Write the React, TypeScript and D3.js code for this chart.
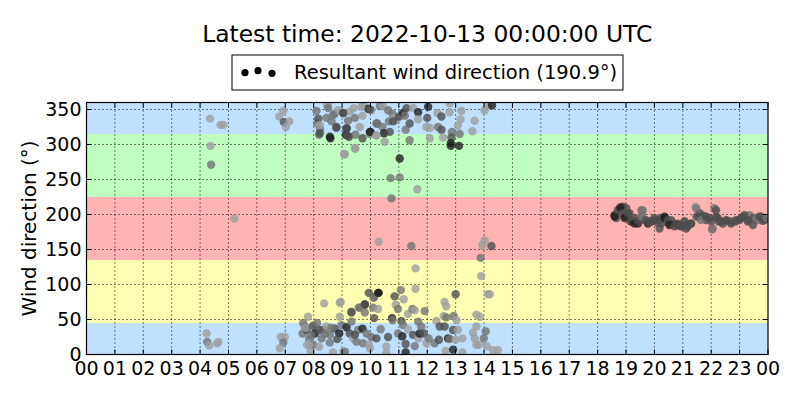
import { useEffect, useRef } from 'react';
import * as d3 from 'd3';

// shade levels of the markers (gray level, 0 = black)
const K = 0.12;
const D = 0.3;
const G = 0.45;
const L = 0.62;

const titleText = 'Latest time: 2022-10-13 00:00:00 UTC';
const legendText = 'Resultant wind direction (190.9°)';
const yLabel = 'Wind direction (°)';

const hourTicks = d3.range(0, 25);
const hourLabels = hourTicks.map(h => String(h % 24).padStart(2, '0'));
const degTicks = [0, 50, 100, 150, 200, 250, 300, 350];

// direction sectors behind the points
const sectors = [
  { from: 0, to: 45, color: '#bfe0ff' },
  { from: 45, to: 135, color: '#ffffb3' },
  { from: 135, to: 225, color: '#ffb3b3' },
  { from: 225, to: 315, color: '#bfffbf' },
  { from: 315, to: 360, color: '#bfe0ff' },
];

// [hour, direction, shade]
const earlyPoints: [number, number, number][] = [
  [4.35, 337, L], [4.72, 328, L], [4.82, 328, L], [4.37, 298, L], [4.39, 271, G],
  [5.21, 194, L], [6.93, 348, L], [6.79, 340, L], [6.95, 332, D], [7.14, 333, L],
  [7.02, 325, L], [4.23, 30, L], [4.25, 18, G], [4.32, 13, L], [4.6, 16, L],
  [4.65, 18, L], [6.84, 25, L], [6.98, 25, L], [6.93, 17, G], [6.81, 9, L],
];

const northPoints: [number, number, number][] = [
  [8.1, 348, G], [8.12, 330, G], [8.22, 322, G], [8.19, 314, G], [8.47, 356, L],
  [8.45, 338, G], [8.63, 333, G], [8.59, 309, K], [8.74, 344, G], [8.8, 324, D],
  [8.86, 349, L], [9.04, 345, D], [9.07, 286, L], [9.16, 323, K], [9.13, 314, K],
  [9.21, 334, G], [9.27, 347, L], [9.25, 311, D], [9.41, 352, L], [9.45, 338, G],
  [9.47, 294, L], [9.47, 314, G], [9.62, 325, L], [9.72, 309, D], [9.74, 356, L],
  [9.72, 341, L], [9.92, 351, K], [10.03, 349, L], [10.0, 318, K], [9.98, 315, G],
  [10.23, 330, D], [10.21, 313, L], [10.33, 355, G], [10.42, 325, G], [10.48, 316, K],
  [10.5, 304, L], [10.65, 333, G], [10.68, 318, D], [10.71, 252, G], [10.74, 223, G],
  [10.77, 344, G], [10.85, 338, L], [10.91, 335, L], [11.01, 340, D], [11.03, 280, K],
  [11.03, 253, G], [11.15, 345, K], [11.21, 341, G], [11.27, 352, D], [11.24, 321, G],
  [11.38, 330, D], [11.38, 306, G], [11.5, 352, L], [11.65, 236, L], [11.68, 346, K],
  [11.68, 336, L], [12.03, 354, K], [12.0, 338, D], [11.97, 325, L], [12.09, 324, L],
  [12.09, 309, L], [12.36, 345, L], [12.38, 325, G], [12.5, 340, D], [12.5, 321, D],
  [12.56, 310, L], [12.79, 359, L], [12.79, 346, L], [12.87, 318, G], [12.85, 310, D],
  [12.83, 302, K], [12.83, 298, K], [13.08, 327, L], [13.14, 315, G], [13.12, 298, K],
  [13.17, 336, L], [13.2, 348, L], [13.59, 319, L], [13.67, 334, L], [14.02, 349, L],
  [14.14, 356, L], [14.28, 356, K],
  [8.51, 359, L], [8.51, 352, G], [8.16, 337, D], [8.22, 328, L], [8.22, 316, D],
  [8.57, 311, K], [8.8, 325, D], [8.68, 342, G], [9.04, 345, D], [9.16, 323, D],
  [9.21, 312, D], [9.1, 286, L], [9.45, 295, L], [9.68, 354, L], [9.98, 350, D],
  [9.98, 318, K], [10.21, 330, G], [10.21, 313, L], [10.44, 355, L], [10.62, 349, G],
  [10.8, 333, D],
];

const southPoints: [number, number, number][] = [
  [10.29, 161, L], [11.44, 155, G], [13.94, 156, L], [14.02, 163, L], [14.26, 155, D],
  [13.88, 138, G], [11.59, 123, L], [13.9, 112, L], [11.59, 94, L], [10.29, 88, K],
  [10.13, 82, D], [10.85, 83, D], [11.07, 92, G], [11.17, 79, L], [8.95, 75, L],
  [8.37, 73, L], [9.8, 71, K], [9.59, 67, G], [10.09, 67, G], [10.27, 65, L],
  [10.89, 71, L], [10.97, 65, G], [11.32, 58, L], [11.48, 65, G], [11.56, 63, L],
  [11.91, 62, G], [13.0, 86, D], [12.61, 75, L], [12.67, 69, L], [14.14, 86, L],
  [14.2, 86, L], [13.73, 57, L], [9.33, 61, G], [9.8, 60, G], [8.92, 54, L],
  [10.13, 52, D], [10.76, 52, K], [11.09, 48, D], [11.68, 47, G], [12.32, 48, L],
  [12.58, 55, L], [12.67, 53, G], [12.93, 55, G], [13.03, 49, L], [13.85, 54, L],
  [7.8, 54, L], [8.92, 74, L], [9.33, 60, D], [9.62, 67, G], [9.8, 72, D],
  [9.94, 88, D], [10.11, 81, G], [10.27, 88, K], [10.78, 49, G],
  [7.63, 45, G], [7.69, 40, G], [7.61, 30, G], [7.75, 35, D], [7.84, 22, G],
  [7.77, 14, L], [7.89, 5, L], [7.98, 41, D], [8.04, 30, K], [8.12, 45, G],
  [7.98, 14, G], [8.19, 11, L], [8.28, 23, G], [8.33, 35, G], [8.45, 40, L],
  [8.57, 28, G], [8.57, 17, G], [8.68, 3, L], [8.74, 37, D], [8.9, 30, K],
  [8.98, 42, G], [9.04, 4, L], [9.1, 4, G], [9.16, 39, K], [9.27, 30, D],
  [9.33, 47, G], [9.39, 23, L], [9.51, 18, G], [9.56, 35, G], [9.72, 37, K],
  [9.74, 16, G], [9.86, 30, G], [9.95, 14, L], [9.98, 9, L], [10.03, 25, G],
  [10.21, 23, D], [10.36, 36, G], [10.56, 11, L], [10.62, 25, D], [10.56, 2, L],
  [10.97, 30, G], [11.12, 26, K], [11.15, 42, G], [11.24, 15, D], [11.24, 3, K],
  [11.32, 36, L], [11.5, 28, D], [11.56, 12, G], [11.68, 23, L], [11.73, 30, K],
  [11.79, 40, G], [11.88, 30, D], [11.97, 16, L], [12.05, 23, G], [12.26, 16, G],
  [12.41, 21, D], [12.44, 40, D], [12.61, 40, D], [12.73, 23, K], [12.79, 22, G],
  [12.65, 5, L], [12.91, 35, D], [12.91, 7, K], [13.0, 21, L], [13.08, 35, L],
  [13.24, 23, L], [13.24, 3, L], [13.61, 31, L], [13.73, 40, L], [13.67, 23, L],
  [13.73, 14, L], [13.82, 14, L], [13.99, 23, G], [14.06, 33, G], [14.1, 12, L],
  [14.31, 6, L], [14.49, 6, L], [7.84, 14, L], [7.7, 38, L], [7.9, 28, G],
  [8.2, 35, D], [8.4, 30, G], [8.62, 38, G], [8.83, 22, D], [9.45, 28, D],
];

const eveningPoints: [number, number, number][] = [
  [18.6, 199, K], [18.66, 195, D], [18.77, 206, D], [18.89, 211, D], [19.01, 209, D],
  [18.95, 198, D], [19.12, 202, D], [19.18, 190, K], [19.3, 195, D], [19.42, 187, K],
  [19.54, 206, G], [19.57, 199, G], [19.65, 192, D], [19.77, 187, K], [19.89, 190, D],
  [20.0, 192, D], [20.12, 188, D], [20.24, 195, D], [20.36, 197, K], [20.42, 190, D],
  [20.53, 187, D], [20.59, 192, D], [20.71, 187, D], [20.82, 185, K], [20.94, 183, D],
  [21.06, 190, G], [21.14, 185, D], [21.29, 187, D], [21.45, 211, L], [21.47, 197, G],
  [21.59, 202, D], [21.73, 198, D], [21.82, 192, D], [21.94, 195, D], [22.03, 179, G],
  [22.11, 209, G], [22.17, 197, D], [22.27, 190, D], [22.41, 187, D], [22.55, 191, D],
  [22.7, 187, D], [22.85, 190, D], [23.0, 192, D], [23.14, 197, D], [23.29, 190, D],
  [23.35, 199, G], [23.49, 195, D], [23.64, 192, G], [23.76, 197, D], [23.87, 192, D],
  [18.6, 197, K], [18.71, 206, D], [18.8, 210, K], [18.89, 202, D], [18.95, 195, K],
  [19.06, 202, D], [19.18, 192, D], [19.3, 187, K], [19.42, 191, D], [19.59, 206, G],
  [19.54, 197, G], [19.71, 192, D], [19.89, 190, D], [20.0, 195, D], [20.12, 192, D],
  [20.24, 187, D], [20.18, 180, D], [20.36, 195, K], [20.47, 192, D], [20.53, 185, K],
  [20.71, 183, D], [20.82, 187, D], [20.94, 183, D], [21.06, 190, D], [21.12, 180, D],
  [21.17, 183, D], [21.29, 187, D], [21.47, 209, G], [21.52, 197, D], [21.64, 192, G],
  [21.82, 197, D], [22.0, 190, D], [22.05, 180, G], [22.17, 206, D], [22.23, 195, D],
  [22.35, 190, D], [22.53, 192, D], [22.7, 190, D], [22.88, 192, D], [23.05, 195, D],
  [23.17, 199, D], [23.29, 192, D], [23.47, 185, D], [23.59, 195, G], [23.7, 197, D],
  [23.82, 191, D], [23.94, 195, G],
];

const allPoints = [...earlyPoints, ...northPoints, ...southPoints, ...eveningPoints];

export default function App() {
  const svgRef = useRef<SVGSVGElement>(null);

  useEffect(() => {
    if (!svgRef.current) return;
    const W = 800;
    const H = 400;
    const margin = { top: 102.5, right: 32, bottom: 45.5, left: 86.5 };
    const left = margin.left;
    const right = W - margin.right;
    const top = margin.top;
    const bottom = H - margin.bottom;
    const font = '"DejaVu Sans", sans-serif';

    const svg = d3.select(svgRef.current);
    svg.selectAll('*').remove();
    svg.attr('width', W).attr('height', H).style('font-family', font);

    svg.append('rect').attr('width', W).attr('height', H).attr('fill', 'white');

    const x = d3.scaleLinear().domain([0, 24]).range([left, right]);
    const y = d3.scaleLinear().domain([0, 360]).range([bottom, top]);

    svg.append('clipPath').attr('id', 'plot-clip')
      .append('rect')
      .attr('x', left).attr('y', top)
      .attr('width', right - left).attr('height', bottom - top);

    // sector bands
    svg.append('g').selectAll('rect')
      .data(sectors)
      .enter()
      .append('rect')
      .attr('x', left)
      .attr('width', right - left)
      .attr('y', d => y(d.to))
      .attr('height', d => y(d.from) - y(d.to))
      .attr('fill', d => d.color);

    // dotted grid
    const grid = svg.append('g')
      .attr('stroke', 'black')
      .attr('stroke-width', 1)
      .attr('stroke-dasharray', '1,3');
    grid.selectAll('.vgrid')
      .data(hourTicks.slice(1, -1))
      .enter()
      .append('line')
      .attr('x1', d => x(d)).attr('x2', d => x(d))
      .attr('y1', top).attr('y2', bottom);
    grid.selectAll('.hgrid')
      .data(degTicks.slice(1))
      .enter()
      .append('line')
      .attr('x1', left).attr('x2', right)
      .attr('y1', d => y(d)).attr('y2', d => y(d));

    // points
    svg.append('g')
      .attr('clip-path', 'url(#plot-clip)')
      .selectAll('circle')
      .data(allPoints)
      .enter()
      .append('circle')
      .attr('cx', d => x(d[0]))
      .attr('cy', d => y(d[1]))
      .attr('r', 4.2)
      .attr('fill', d => d3.rgb(d[2] * 255, d[2] * 255, d[2] * 255).toString())
      .attr('fill-opacity', 0.8);

    // ticks on all four sides, pointing inward
    const tickLen = 5;
    const ticks = svg.append('g').attr('stroke', 'black').attr('stroke-width', 1);
    hourTicks.forEach(h => {
      ticks.append('line').attr('x1', x(h)).attr('x2', x(h)).attr('y1', bottom).attr('y2', bottom - tickLen);
      ticks.append('line').attr('x1', x(h)).attr('x2', x(h)).attr('y1', top).attr('y2', top + tickLen);
    });
    degTicks.forEach(v => {
      ticks.append('line').attr('x1', left).attr('x2', left + tickLen).attr('y1', y(v)).attr('y2', y(v));
      ticks.append('line').attr('x1', right).attr('x2', right - tickLen).attr('y1', y(v)).attr('y2', y(v));
    });

    // frame
    svg.append('rect')
      .attr('x', left).attr('y', top)
      .attr('width', right - left).attr('height', bottom - top)
      .attr('fill', 'none')
      .attr('stroke', 'black')
      .attr('stroke-width', 1.2);

    // tick labels
    svg.append('g').selectAll('text')
      .data(hourTicks)
      .enter()
      .append('text')
      .attr('x', d => x(d))
      .attr('y', bottom + 20)
      .attr('text-anchor', 'middle')
      .attr('font-size', 19)
      .text((d, i) => hourLabels[i]);

    svg.append('g').selectAll('text')
      .data(degTicks)
      .enter()
      .append('text')
      .attr('x', left - 5)
      .attr('y', d => y(d))
      .attr('dy', '0.36em')
      .attr('text-anchor', 'end')
      .attr('font-size', 19)
      .text(d => String(d));

    // y label
    svg.append('text')
      .attr('transform', `translate(36,${(top + bottom) / 2}) rotate(-90)`)
      .attr('text-anchor', 'middle')
      .attr('font-size', 20)
      .text(yLabel);

    // title
    svg.append('text')
      .attr('x', (left + right) / 2)
      .attr('y', 42)
      .attr('text-anchor', 'middle')
      .attr('font-size', 23.4)
      .text(titleText);

    // legend
    const legend = svg.append('g');
    legend.append('rect')
      .attr('x', 232).attr('y', 55)
      .attr('width', 391).attr('height', 35)
      .attr('fill', 'white')
      .attr('stroke', 'black')
      .attr('stroke-width', 1);
    [[245, 72.7], [258, 70.7], [272, 73.3]].forEach(([cx, cy]) => {
      legend.append('circle').attr('cx', cx).attr('cy', cy).attr('r', 3.6).attr('fill', 'black');
    });
    legend.append('text')
      .attr('x', 294)
      .attr('y', 79)
      .attr('font-size', 19.5)
      .text(legendText);
  }, []);

  return (
    <div style={{ position: 'absolute', left: 0, top: 0 }}>
      <svg ref={svgRef} width={800} height={400} style={{ display: 'block' }} />
    </div>
  );
}
